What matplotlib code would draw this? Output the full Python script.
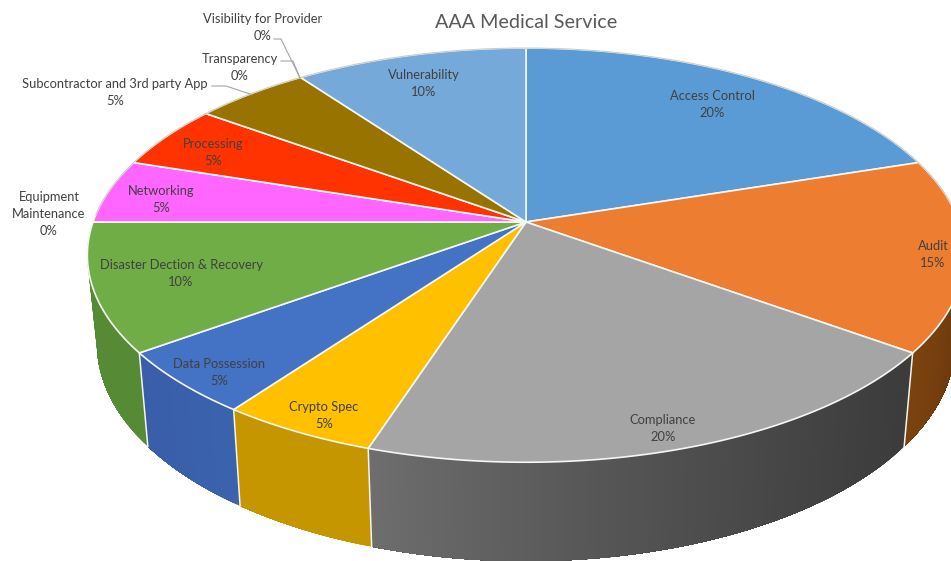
#!/usr/bin/env python3
"""plot.py -- AAA Medical Service, tilted 3D pie built from flat polygons."""

import numpy as np
import matplotlib
matplotlib.use("Agg")
import matplotlib.pyplot as plt
from matplotlib.colors import to_rgb

CATEGORIES = ["Access Control", "Audit", "Compliance", "Crypto Spec", "Data Possession",
              "Disaster Dection & Recovery", "Equipment\nMaintenance", "Networking",
              "Processing", "Subcontractor and 3rd party App", "Transparency",
              "Visibility for Provider", "Vulnerability"]
SHARES = [20, 15, 20, 5, 5, 10, 0, 5, 5, 5, 0, 0, 10]

TOP_COLORS = ["#5b9bd5", "#ed7d31", "#a5a5a5", "#ffc000", "#4472c4", "#70ad47", "#70ad47",
              "#ff66ff", "#ff3300", "#997300", "#997300", "#997300", "#74a9da"]
# wall colour at the slice's start and end angle
WALL_COLORS = [("#3d6f9e", "#3d6f9e"), ("#5c2f0a", "#7c430f"), ("#3c3c3c", "#6e6e6e"),
               ("#c59600", "#c59600"), ("#3a62ad", "#3a5da8"), ("#568a34", "#568a34"),
               ("#568a34", "#568a34"), ("#c050c0", "#c050c0"), ("#c02800", "#c02800"),
               ("#735600", "#735600"), ("#735600", "#735600"), ("#735600", "#735600"),
               ("#5580a8", "#5580a8")]

# label centres in pixels, one per category
LABEL_XY = [(712, 104), (933, 254), (663, 428), (324, 415), (219, 372), (181, 273),
            (49, 214), (161, 199), (213, 152), (115, 92), (240, 67), (263, 27), (424, 83)]

# leader lines for the labels that sit outside the pie
LEADERS = [[(212, 86), (226, 86), (250, 94)],
           [(281, 61), (293, 61), (300, 78)],
           [(274, 39), (281, 39), (300, 78)]]

CX, CY = 526, 222
RX, RY = 433, 201.8
PERSP = 0.16


def top_rim(deg):
    """Pixel position on the upper rim, clockwise from 12 o'clock."""
    t = np.radians(deg)
    w = 1 + PERSP * np.cos(t)
    return CX + RX * np.sin(t) / w, CY - RY * np.cos(t) / w


def bottom_rim(deg):
    """Pixel position on the lower rim, slightly narrower than the upper one."""
    x, y = top_rim(deg)
    return CX + 0.978 * (x - CX), CY + 87 + 1.05 * (y - CY)


fig = plt.figure(figsize=(9.51, 5.61), dpi=100)
ax = fig.add_axes([0, 0, 1, 1])
ax.set_xlim(0, 951)
ax.set_ylim(561, 0)
ax.axis("off")

edges = np.concatenate([[0], np.cumsum(SHARES)]) * 3.6

# side walls first, cut into thin strips so the shade can change along the rim;
# each strip runs on to the end of the slice and the next one paints over it
for i, share in enumerate(SHARES):
    a0, a1 = edges[i], edges[i + 1]
    if share == 0 or not (a1 > 60 and a0 < 275):
        continue
    a0, a1 = max(a0, 60), min(a1, 275)
    steps = np.linspace(a0, a1, int(a1 - a0) * 2 + 2)
    c0, c1 = map(np.array, map(to_rgb, WALL_COLORS[i]))
    for s0 in steps[:-1]:
        f = ((s0 - a0) / (a1 - a0)) ** 1.4
        col = c0 + (c1 - c0) * f
        arc = np.linspace(s0, a1, 60)
        xt, yt = top_rim(arc)
        xb, yb = bottom_rim(arc[::-1])
        ax.fill(np.r_[xt, xb], np.r_[yt, yb], color=col, lw=0, zorder=1)

# white seams between the visible walls
for deg in edges[1:7]:
    if 90 < deg < 270:
        xt, yt = top_rim(deg)
        xb, yb = bottom_rim(deg)
        ax.plot([xt, xb], [yt, yb], color="#f4f4f0", lw=1.1, zorder=2)

# top face
for i, share in enumerate(SHARES):
    if share == 0:
        continue
    steps = np.linspace(edges[i], edges[i + 1], share * 6 + 2)
    x, y = top_rim(steps)
    ax.fill(np.r_[CX, x], np.r_[CY, y], facecolor=TOP_COLORS[i], edgecolor="#f6f6f2",
            lw=1.2, joinstyle="round", zorder=3)

# thin grey line round the far side of the rim
back = np.linspace(272, 448, 200)
xr, yr = top_rim(back)
ax.plot(xr, yr, color="#c4c4c4", lw=0.6, zorder=4)

for pts in LEADERS:
    ax.plot(*zip(*pts), color="#a6a6a6", lw=0.8, zorder=4)

for name, share, (lx, ly) in zip(CATEGORIES, SHARES, LABEL_XY):
    ax.text(lx, ly, f"{name}\n{share}%", ha="center", va="center", fontsize=9.3,
            family="Lato", color="#404040", linespacing=1.5, zorder=5)

ax.text(526, 22, "AAA Medical Service", ha="center", va="center", fontsize=14.2,
        family="Lato", color="#595959", zorder=5)

fig.savefig("out.png", dpi=100)
plt.close(fig)
